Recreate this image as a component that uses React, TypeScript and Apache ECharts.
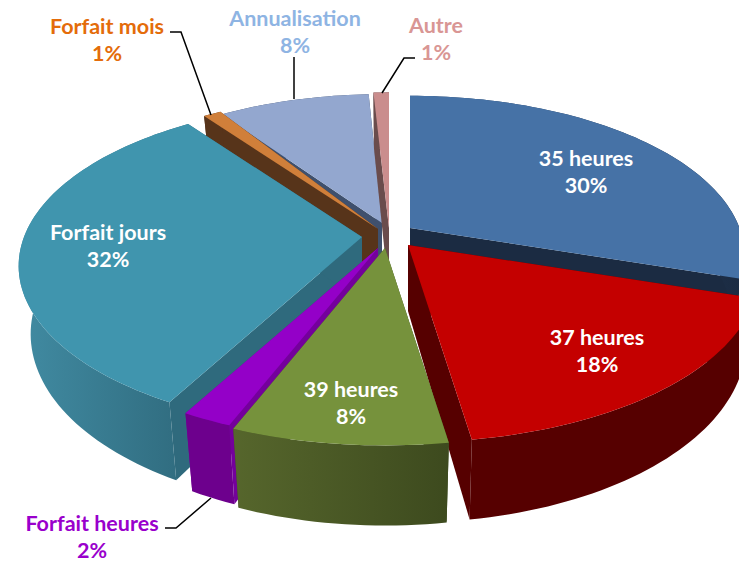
import React, { useEffect, useRef } from "react";
import * as echarts from "echarts";

const categories = ["35 heures", "37 heures", "39 heures", "Forfait heures", "Forfait jours", "Forfait mois", "Annualisation", "Autre"];
const values = [30, 18, 8, 2, 32, 1, 8, 1];

const topColors = ["#4672a6", "#c40000", "#76923c", "#9400c8", "#4095ae", "#d07f3a", "#93a7cf", "#ca8d8d"];
const faceColors = ["#1b2b42", "#560000", "#3f4c20", "#74009c", "#2f6a7d", "#57341a", "#3f506d", "#6a4c4c"];
const rimColors: [string, string][] = [
  ["#2c4a70", "#1b2b42"],
  ["#560000", "#560000"],
  ["#56662c", "#3d4a1e"],
  ["#6d008d", "#6d008d"],
  ["#418ba2", "#2f6a7d"],
  ["#57341a", "#57341a"],
  ["#3f506d", "#3f506d"],
  ["#6a4c4c", "#6a4c4c"],
];
const labelColors = ["#ffffff", "#ffffff", "#ffffff", "#9900cc", "#ffffff", "#e46c0a", "#8eb4e3", "#d99694"];

// exploded slice apexes, radius factors and small view corrections (degrees) of the perspective view
const apexes = [[410, 228], [408, 245], [385, 248], [378, 248], [362, 237], [378, 229], [382, 223], [389, 228]];
const radiusFactors = [0.975, 1.02, 1.02, 1, 1, 1, 0.95, 1];
const angleNudges = [[0, 0], [0, -1.6], [-1.6, 0], [0, 0], [0, 0], [0, 0], [-2.5, 0.8], [0.5, 0]];
const labelCentres = [[586, 171], [597, 350], [351, 402], [92, 536], [108, 245], [107, 39], [295, 31], [436, 38]];
const leaders = [
  [[170, 32], [181, 32], [211, 115]],
  [[294, 57], [294, 99]],
  [[415, 58], [404, 58], [382, 93]],
  [[165, 528], [176, 528], [211, 498]],
];
const paintOrder = [6, 7, 5, 0, 4, 3, 1, 2];

const RX = 338;
const RY = 159.5;
const K = 0.176;
const DEPTH = 66;
const INSET = 0.035;

const total = values.reduce((a, b) => a + b, 0);
const starts: number[] = [];
values.reduce((acc, v, i) => {
  starts[i] = acc;
  return acc + v;
}, 0);

function project(i: number, deg: number) {
  const [ax, ay] = apexes[i];
  const rad = (deg * Math.PI) / 180;
  const u = Math.sin(rad);
  const v = Math.cos(rad);
  const s = 1 / (1 + K * v);
  const f = radiusFactors[i];
  return { x: ax + RX * f * u * s, y: ay - RY * f * v * s, s };
}
function drop(i: number, p: { x: number; y: number; s: number }): number[] {
  const ax = apexes[i][0];
  return [p.x - (p.x - ax) * INSET, p.y + DEPTH * p.s];
}

function renderSlice(_: any, api: any) {
  const i = api.value(0) as number;
  const a0 = (starts[i] / total) * 360 + angleNudges[i][0];
  const a1 = ((starts[i] + values[i]) / total) * 360 + angleNudges[i][1];
  const n = Math.max(2, Math.ceil((a1 - a0) / 1.5));
  const arc: { x: number; y: number; s: number }[] = [];
  for (let k = 0; k <= n; k++) arc.push(project(i, a0 + ((a1 - a0) * k) / n));
  const apex = { x: apexes[i][0], y: apexes[i][1], s: 1 };
  const apexB = drop(i, apex);
  const top = [[apex.x, apex.y], ...arc.map((p) => [p.x, p.y])];
  const rim = [...arc.map((p) => [p.x, p.y]), ...arc.slice().reverse().map((p) => drop(i, p))];
  const first = arc[0];
  const last = arc[arc.length - 1];
  const faceA = [[apex.x, apex.y], [first.x, first.y], drop(i, first), apexB];
  const faceB = [[apex.x, apex.y], [last.x, last.y], drop(i, last), apexB];
  const face = faceColors[i];
  return {
    type: "group",
    children: [
      { type: "polygon", shape: { points: faceA }, style: { fill: face } },
      { type: "polygon", shape: { points: faceB }, style: { fill: face } },
      {
        type: "polygon",
        shape: { points: rim },
        style: {
          fill: {
            type: "linear",
            x: 0,
            y: 0,
            x2: 1,
            y2: 0,
            colorStops: [
              { offset: 0, color: rimColors[i][0] },
              { offset: 1, color: rimColors[i][1] },
            ],
          },
        },
      },
      { type: "polygon", shape: { points: top }, style: { fill: topColors[i] } },
    ],
  };
}

function renderLabel(_: any, api: any) {
  const i = api.value(0) as number;
  return {
    type: "text",
    x: labelCentres[i][0],
    y: labelCentres[i][1],
    style: {
      text: `${categories[i]}\n${values[i]}%`,
      fill: labelColors[i],
      font: "bold 21.5px Lato",
      lineHeight: 27,
      align: "center",
      verticalAlign: "middle",
    },
  };
}

function renderLeader(_: any, api: any) {
  const i = api.value(0) as number;
  return {
    type: "polyline",
    shape: { points: leaders[i] },
    style: { stroke: "#000000", lineWidth: 1.5, fill: "none" },
  };
}

export default function App() {
  const ref = useRef<HTMLDivElement>(null);
  useEffect(() => {
    document.body.style.margin = "0";
    const chart = echarts.init(ref.current!, undefined, { renderer: "svg" });
    chart.setOption({
      animation: false,
      backgroundColor: "#ffffff",
      series: [
        { type: "custom", coordinateSystem: "none", silent: true, z: 2, data: paintOrder.map((i) => [i]), renderItem: renderSlice },
        { type: "custom", coordinateSystem: "none", silent: true, z: 3, data: leaders.map((_, i) => [i]), renderItem: renderLeader },
        { type: "custom", coordinateSystem: "none", silent: true, z: 4, data: categories.map((_, i) => [i]), renderItem: renderLabel },
      ],
    });
    return () => chart.dispose();
  }, []);
  return <div ref={ref} style={{ width: 739, height: 562 }} />;
}
